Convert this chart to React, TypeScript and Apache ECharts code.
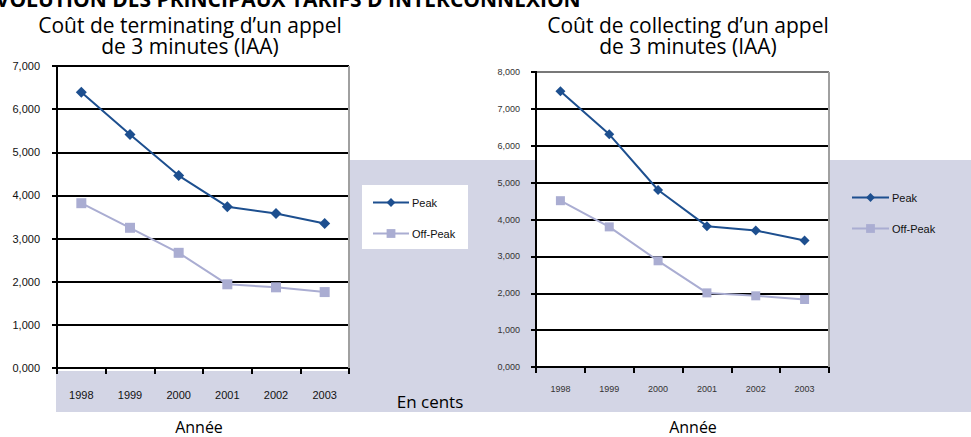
import React, { useEffect, useRef } from "react";
import * as echarts from "echarts";

const years = ["1998", "1999", "2000", "2001", "2002", "2003"];
const terminatingPeak = [6.39, 5.41, 4.46, 3.74, 3.58, 3.35];
const terminatingOffPeak = [3.82, 3.25, 2.67, 1.94, 1.87, 1.76];
const collectingPeak = [7.48, 6.31, 4.8, 3.82, 3.7, 3.43];
const collectingOffPeak = [4.51, 3.8, 2.88, 2.01, 1.93, 1.83];
const seriesNames = ["Peak", "Off-Peak"];

const PEAK = "#1d4f8f";
const OFF = "#aaadd2";
const LAV = "#d3d5e5";
const TXT = "Open Sans, DejaVu Sans, sans-serif";
const SMALL = "Liberation Sans Narrow, Liberation Sans, sans-serif";

const fmt = (v: number) => v.toFixed(3).replace(".", ",");

export default function App() {
  const ref = useRef<HTMLDivElement>(null);
  useEffect(() => {
    if (!ref.current) return;
    const chart = echarts.init(ref.current, null, { renderer: "svg" });
    const yAxisBase = (max: number, left: boolean) => ({
      type: "value" as const,
      min: 0,
      max,
      interval: 1,
      axisLine: { show: true, lineStyle: { color: "#000", width: 2 } },
      axisTick: { show: true, length: 5, lineStyle: { color: "#000", width: 2 } },
      splitLine: { show: true, lineStyle: { color: "#000", width: 2 } },
      axisLabel: {
        formatter: fmt,
        fontFamily: SMALL,
        fontSize: left ? 11 : 9,
        color: left ? "#111" : "#333",
        margin: left ? 17 : 16,
      },
    });
    const xAxisBase = (left: boolean) => ({
      type: "category" as const,
      data: years,
      boundaryGap: true,
      axisLine: { show: true, lineStyle: { color: "#000", width: 2 } },
      axisTick: { show: true, length: 6, alignWithLabel: false, lineStyle: { color: "#000", width: 2 } },
      axisLabel: {
        fontFamily: SMALL,
        fontSize: left ? 11 : 9,
        color: left ? "#111" : "#333",
        margin: left ? 21 : 17,
      },
      splitLine: { show: false },
    });
    const peakStyle = (size: number) => ({
      type: "line" as const,
      symbol: "diamond",
      symbolSize: size,
      itemStyle: { color: PEAK },
      lineStyle: { color: PEAK, width: 2 },
      z: 5,
    });
    const offStyle = (size: number) => ({
      type: "line" as const,
      symbol: "rect",
      symbolSize: size,
      itemStyle: { color: OFF },
      lineStyle: { color: OFF, width: 2 },
      z: 4,
    });
    chart.setOption({
      animation: false,
      backgroundColor: "#fff",
      grid: [
        { left: 57, top: 66, width: 292, height: 302, show: true, backgroundColor: "#fff", borderWidth: 0, z: -1 },
        { left: 536, top: 72, width: 293, height: 295, show: true, backgroundColor: "#fff", borderWidth: 0, z: -1 },
      ],
      xAxis: [
        { ...xAxisBase(true), gridIndex: 0 },
        { ...xAxisBase(false), gridIndex: 1 },
      ],
      yAxis: [
        { ...yAxisBase(7, true), gridIndex: 0 },
        { ...yAxisBase(8, false), gridIndex: 1 },
      ],
      legend: [
        {
          data: seriesNames,
          orient: "vertical",
          left: 367,
          top: 192,
          itemWidth: 36,
          itemHeight: 11,
          itemGap: 20,
          textStyle: { fontFamily: SMALL, fontSize: 11, color: "#111", padding: [0, 0, 0, -2] },
          selectedMode: false,
        },
        {
          data: [
            { name: seriesNames[0] + " " },
            { name: seriesNames[1] + " " },
          ],
          orient: "vertical",
          left: 846,
          top: 187,
          itemWidth: 37,
          itemHeight: 11,
          itemGap: 20,
          formatter: (n: string) => n.trim(),
          textStyle: { fontFamily: SMALL, fontSize: 11, color: "#111", padding: [0, 0, 0, -2] },
          selectedMode: false,
        },
      ],
      series: [
        { ...peakStyle(11), name: seriesNames[0], xAxisIndex: 0, yAxisIndex: 0, data: terminatingPeak },
        { ...offStyle(10), name: seriesNames[1], xAxisIndex: 0, yAxisIndex: 0, data: terminatingOffPeak },
        { ...peakStyle(10), name: seriesNames[0] + " ", xAxisIndex: 1, yAxisIndex: 1, data: collectingPeak },
        { ...offStyle(9), name: seriesNames[1] + " ", xAxisIndex: 1, yAxisIndex: 1, data: collectingOffPeak },
      ],
      graphic: [
        { type: "rect", z: -100, silent: true, shape: { x: 349, y: 160, width: 622, height: 252 }, style: { fill: LAV } },
        { type: "rect", z: -100, silent: true, shape: { x: 56, y: 371, width: 293, height: 41 }, style: { fill: LAV } },
        { type: "rect", z: -50, silent: true, shape: { x: 362, y: 185, width: 106, height: 64 }, style: { fill: "#fff" } },
        { type: "line", z: 10, silent: true, shape: { x1: 349, y1: 66, x2: 349, y2: 368 }, style: { stroke: "#a0a0a0", lineWidth: 2 } },
        { type: "line", z: 10, silent: true, shape: { x1: 829, y1: 72, x2: 829, y2: 367 }, style: { stroke: "#a0a0a0", lineWidth: 2 } },
        { type: "line", z: 10, silent: true, shape: { x1: 537, y1: 72, x2: 829, y2: 72 }, style: { stroke: "#a0a0a0", lineWidth: 1.5 } },
        {
          type: "text", x: -16, y: -1, silent: true,
          style: { text: "ÉVOLUTION DES PRINCIPAUX TARIFS D'INTERCONNEXION", font: `bold 21px ${TXT}`, fill: "#000", verticalAlign: "middle" },
        },
        {
          type: "text", x: 190, y: 35, silent: true,
          style: { text: "Coût de terminating d’un appel\nde 3 minutes (IAA)", font: `21px ${TXT}`, lineHeight: 21, fill: "#000", align: "center", verticalAlign: "middle" },
        },
        {
          type: "text", x: 688, y: 35, silent: true,
          style: { text: "Coût de collecting d’un appel\nde 3 minutes (IAA)", font: `21px ${TXT}`, lineHeight: 21, fill: "#000", align: "center", verticalAlign: "middle" },
        },
        { type: "text", x: 430, y: 401, silent: true, style: { text: "En cents", font: `17px ${TXT}`, fill: "#000", align: "center", verticalAlign: "middle" } },
        { type: "text", x: 199, y: 427, silent: true, style: { text: "Année", font: `16px ${TXT}`, fill: "#000", align: "center", verticalAlign: "middle" } },
        { type: "text", x: 693, y: 427, silent: true, style: { text: "Année", font: `16px ${TXT}`, fill: "#000", align: "center", verticalAlign: "middle" } },
      ],
    });
    return () => chart.dispose();
  }, []);
  return <div ref={ref} style={{ position: "absolute", left: 0, top: 0, width: 971, height: 437 }} />;
}
